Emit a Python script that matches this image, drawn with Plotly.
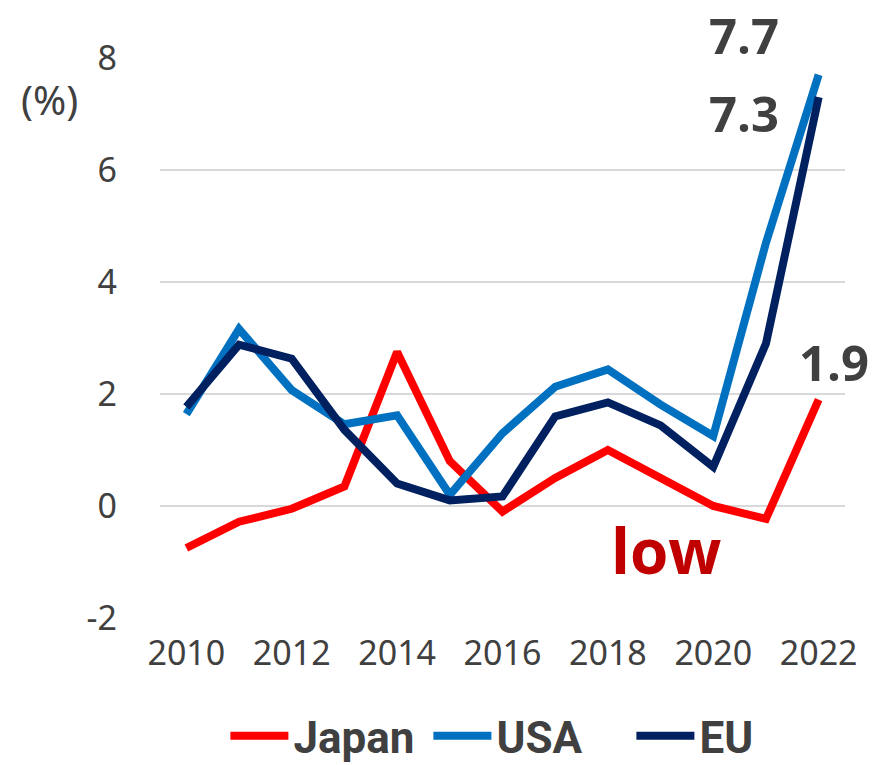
import plotly.graph_objects as go

years = list(range(2010, 2023))
japan = [-0.75, -0.28, -0.05, 0.35, 2.75, 0.8, -0.1, 0.5, 1.0, 0.5, 0.0, -0.23, 1.9]
usa = [1.64, 3.16, 2.07, 1.46, 1.62, 0.2, 1.3, 2.13, 2.44, 1.81, 1.25, 4.7, 7.7]
eu = [1.77, 2.88, 2.63, 1.36, 0.4, 0.1, 0.17, 1.6, 1.85, 1.44, 0.7, 2.9, 7.3]

y_ticks = [-2, 0, 2, 4, 6, 8]
y_ticktext = ["-2", "0", "2", "4", "6", "8"]
x_ticks = [2010, 2012, 2014, 2016, 2018, 2020, 2022]

series = [
    ("Japan", japan, "#FF0000"),
    ("USA", usa, "#0070C0"),
    ("EU", eu, "#002060"),
]

reg_font = "Noto Sans, Open Sans, sans-serif"
bold_font = "Open Sans, Noto Sans, sans-serif"
legend_font = "Roboto, sans-serif"

fig = go.Figure()

for name, vals, color in series:
    fig.add_trace(go.Scatter(
        x=years,
        y=vals,
        mode='lines',
        name=name,
        line=dict(color=color, width=8),
        cliponaxis=False
    ))

# 末端数值标签
end_labels = [(usa, "right", -38, 40), (eu, "right", -38, -16), (japan, "center", 15, 38)]
for vals, anchor, dx, dy in end_labels:
    fig.add_annotation(
        x=years[-1], y=vals[-1], xref="x", yref="y",
        text=f"<b>{vals[-1]:.1f}</b>",
        showarrow=False, xanchor=anchor, yanchor="middle",
        xshift=dx, yshift=dy,
        font=dict(family=bold_font, size=49, color="#404040")
    )

fig.add_annotation(
    x=2019.1, y=-0.78, xref="x", yref="y",
    text="<b>low</b>", showarrow=False,
    xanchor="center", yanchor="middle",
    font=dict(family=bold_font, size=62, color="#C00000")
)

fig.add_annotation(
    x=-0.162, y=0.925, xref="paper", yref="paper",
    text="(%)", showarrow=False,
    xanchor="center", yanchor="middle",
    font=dict(family=reg_font, size=40, color="#404040")
)

fig.update_layout(
    width=877, height=757,
    plot_bgcolor="white", paper_bgcolor="white",
    margin=dict(l=152, r=40, t=50, b=147, autoexpand=False),
    showlegend=True,
    legend=dict(
        orientation="h",
        x=0.54, xanchor="center",
        yref="container", y=0.038, yanchor="middle",
        font=dict(family=legend_font, size=44, color="#404040", weight="bold"),
        itemwidth=58,
        entrywidth=130,
        traceorder="normal"
    ),
    font=dict(family=reg_font, color="#404040")
)

fig.update_xaxes(
    range=[2009.5, 2022.5],
    tickvals=x_ticks,
    showgrid=False, zeroline=False, showline=False,
    ticks="", ticklabelstandoff=12, automargin=False,
    tickfont=dict(family=reg_font, size=34, color="#404040")
)

fig.update_yaxes(
    range=[-2, 8],
    tickvals=y_ticks, ticktext=y_ticktext,
    showgrid=True, gridcolor="#D9D9D9", gridwidth=1.5,
    zeroline=False, showline=False,
    ticks="", ticklabelstandoff=42, automargin=False,
    tickfont=dict(family=reg_font, size=34, color="#404040")
)

fig.write_html("out.html")
